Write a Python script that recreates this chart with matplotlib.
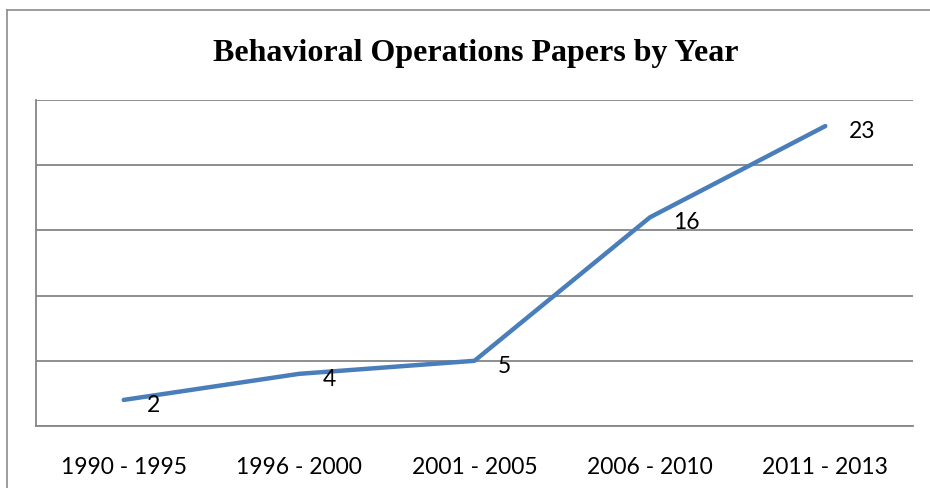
import matplotlib.pyplot as plt
from matplotlib.lines import Line2D

# Papers per period
periods = ["1990 - 1995", "1996 - 2000", "2001 - 2005", "2006 - 2010", "2011 - 2013"]
papers = [2, 4, 5, 16, 23]
y_ticks = [0, 5, 10, 15, 20, 25]

LINE_BLUE = "#4A7EBB"
GRID_GRAY = "#868686"

fig = plt.figure(figsize=(9.3, 4.88), dpi=100)
fig.patch.set_facecolor("white")

# chart-area frame (right and bottom edges fall outside the canvas)
W, H = 930, 488
fig.add_artist(Line2D([7 / W, 7 / W], [0, 1 - 10 / H], transform=fig.transFigure,
                      color="#8C8C8C", lw=1.2))
fig.add_artist(Line2D([7 / W, 1], [1 - 10 / H, 1 - 10 / H], transform=fig.transFigure,
                      color="#8C8C8C", lw=1.2))

ax = fig.add_axes([36 / W, 62 / H, (913 - 36) / W, (426 - 100) / H])
x = list(range(len(periods)))
ax.plot(x, papers, color=LINE_BLUE, lw=3.2, solid_capstyle="round", zorder=3)

for xi, v in zip(x, papers):
    ax.annotate(str(v), (xi, v), xytext=(17, -4), textcoords="offset points",
                ha="left", va="center", fontsize=16.5, family="Lato", color="black")

ax.set_xlim(-0.5, len(periods) - 0.5)
ax.set_ylim(y_ticks[0], y_ticks[-1])
ax.set_yticks(y_ticks)
ax.set_yticklabels([])
ax.set_xticks(x)
ax.set_xticklabels(periods, fontsize=16.5, family="Lato")
ax.tick_params(axis="both", length=0)
ax.tick_params(axis="x", pad=22)
ax.grid(axis="y", color=GRID_GRAY, lw=1.3)
ax.set_axisbelow(True)

for side in ["top", "right"]:
    ax.spines[side].set_visible(False)
for side in ["left", "bottom"]:
    ax.spines[side].set_color(GRID_GRAY)
    ax.spines[side].set_linewidth(1.3)

fig.text(476 / W, 1 - 54 / H, "Behavioral Operations Papers by Year", ha="center", va="center",
         fontsize=23, fontweight="bold", family="Liberation Serif")

fig.savefig("out.png", dpi=100, facecolor="white")
